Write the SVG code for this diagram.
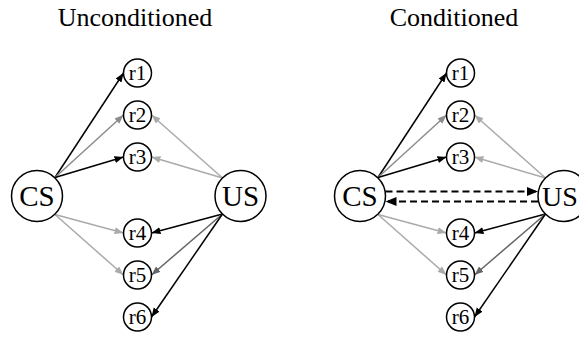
<svg xmlns="http://www.w3.org/2000/svg" width="579" height="338" viewBox="0 0 579 338">
<style>
.title{font-family:"Liberation Serif","Times New Roman",serif;font-size:26px;fill:#000;text-anchor:middle}
.big{font-family:"Liberation Serif","Times New Roman",serif;font-size:29px;fill:#000;text-anchor:middle}
.small{font-family:"Liberation Serif","Times New Roman",serif;font-size:21px;fill:#000;text-anchor:middle}
.node{fill:#fff;stroke:#000;stroke-width:1.5}
.e{fill:none;stroke-width:1.5}
.k{stroke:#000;marker-end:url(#ak)}
.m{stroke:#8c8c8c;marker-end:url(#am)}
.l{stroke:#aaaaaa;marker-end:url(#al)}
.d{stroke:#666666;marker-end:url(#ad)}
.dash{fill:none;stroke:#000;stroke-width:2;stroke-dasharray:7,4;marker-end:url(#ab)}
</style>
<defs>
<marker id="ak" markerUnits="userSpaceOnUse" markerWidth="10" markerHeight="8" refX="9" refY="3.5" orient="auto"><path d="M0,0 L9,3.5 L0,7 z" fill="#000"/></marker>
<marker id="am" markerUnits="userSpaceOnUse" markerWidth="10" markerHeight="8" refX="9" refY="3.5" orient="auto"><path d="M0,0 L9,3.5 L0,7 z" fill="#8c8c8c"/></marker>
<marker id="al" markerUnits="userSpaceOnUse" markerWidth="10" markerHeight="8" refX="9" refY="3.5" orient="auto"><path d="M0,0 L9,3.5 L0,7 z" fill="#aaaaaa"/></marker>
<marker id="ad" markerUnits="userSpaceOnUse" markerWidth="10" markerHeight="8" refX="9" refY="3.5" orient="auto"><path d="M0,0 L9,3.5 L0,7 z" fill="#666666"/></marker>
<marker id="ab" markerUnits="userSpaceOnUse" markerWidth="12" markerHeight="10" refX="11" refY="4.5" orient="auto"><path d="M0,0 L11,4.5 L0,9 z" fill="#000"/></marker>
</defs>
<rect width="579" height="338" fill="#fff"/>
<text class="title" x="135" y="26">Unconditioned</text>
<text class="title" x="454" y="26">Conditioned</text>
<g id="connectors">
<path class="e k" d="M55,177.5 L123.5,73"/>
<path class="e m" d="M55,177.5 L123.5,115"/>
<path class="e k" d="M55,177.5 L123.5,157"/>
<path class="e l" d="M55,214.5 L123.5,233"/>
<path class="e l" d="M55,214.5 L123.5,275"/>
<path class="e l" d="M222.5,178 L151.5,115"/>
<path class="e l" d="M222.5,178 L151.5,157"/>
<path class="e k" d="M222.5,214 L151.5,233"/>
<path class="e d" d="M222.5,214 L151.5,275"/>
<path class="e k" d="M222.5,214 L151.5,317"/>
<path class="e k" d="M378,177.5 L446.5,73"/>
<path class="e m" d="M378,177.5 L446.5,115"/>
<path class="e k" d="M378,177.5 L446.5,157"/>
<path class="e l" d="M378,214.5 L446.5,233"/>
<path class="e l" d="M378,214.5 L446.5,275"/>
<path class="e l" d="M545.5,178 L474.5,115"/>
<path class="e l" d="M545.5,178 L474.5,157"/>
<path class="e k" d="M545.5,214 L474.5,233"/>
<path class="e d" d="M545.5,214 L474.5,275"/>
<path class="e k" d="M545.5,214 L474.5,317"/>
<path class="dash" d="M385.5,191.5 L538,191.5"/>
<path class="dash" d="M538,201.5 L385.5,201.5"/>
</g>
<g id="L-CS"><circle class="node" cx="37" cy="196" r="25.5"/><text class="big" x="37" y="206">CS</text></g>
<g id="L-US"><circle class="node" cx="240.5" cy="196" r="25.5"/><text class="big" x="240.5" y="206">US</text></g>
<g id="L-r1"><circle class="node" cx="137.5" cy="73" r="14"/><text class="small" x="137.5" y="80">r1</text></g>
<g id="L-r2"><circle class="node" cx="137.5" cy="115" r="14"/><text class="small" x="137.5" y="122">r2</text></g>
<g id="L-r3"><circle class="node" cx="137.5" cy="157" r="14"/><text class="small" x="137.5" y="164">r3</text></g>
<g id="L-r4"><circle class="node" cx="137.5" cy="233" r="14"/><text class="small" x="137.5" y="240">r4</text></g>
<g id="L-r5"><circle class="node" cx="137.5" cy="275" r="14"/><text class="small" x="137.5" y="282">r5</text></g>
<g id="L-r6"><circle class="node" cx="137.5" cy="317" r="14"/><text class="small" x="137.5" y="324">r6</text></g>
<g id="R-CS"><circle class="node" cx="360" cy="196" r="25.5"/><text class="big" x="360" y="206">CS</text></g>
<g id="R-US"><circle class="node" cx="563.5" cy="196" r="25.5"/><text class="big" x="560" y="206" style="font-size:28px">US</text></g>
<g id="R-r1"><circle class="node" cx="460.5" cy="73" r="14"/><text class="small" x="460.5" y="80">r1</text></g>
<g id="R-r2"><circle class="node" cx="460.5" cy="115" r="14"/><text class="small" x="460.5" y="122">r2</text></g>
<g id="R-r3"><circle class="node" cx="460.5" cy="157" r="14"/><text class="small" x="460.5" y="164">r3</text></g>
<g id="R-r4"><circle class="node" cx="460.5" cy="233" r="14"/><text class="small" x="460.5" y="240">r4</text></g>
<g id="R-r5"><circle class="node" cx="460.5" cy="275" r="14"/><text class="small" x="460.5" y="282">r5</text></g>
<g id="R-r6"><circle class="node" cx="460.5" cy="317" r="14"/><text class="small" x="460.5" y="324">r6</text></g>
</svg>
